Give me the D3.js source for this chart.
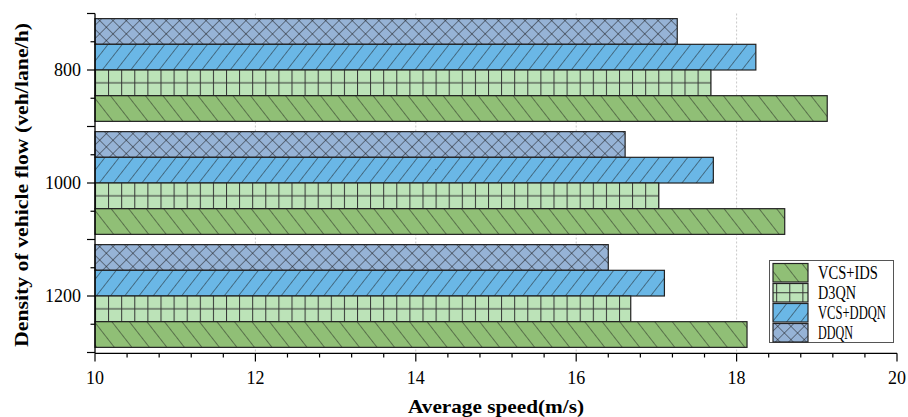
<!DOCTYPE html>
<html><head><meta charset="utf-8">
<script src="https://cdn.jsdelivr.net/npm/d3@7"></script>
<style>html,body{margin:0;padding:0;background:#fff;}svg{display:block;}</style>
</head><body>
<svg id="c" width="908" height="417"></svg>
<script>
const categories = ["800", "1000", "1200"];
const series = ["DDQN", "VCS+DDQN", "D3QN", "VCS+IDS"]; // top to bottom inside a group
const legendOrder = ["VCS+IDS", "D3QN", "VCS+DDQN", "DDQN"];
const valDDQN    = [17.26, 16.61, 16.40];
const valVCSDDQN = [18.24, 17.71, 17.10];
const valD3QN    = [17.68, 17.03, 16.68];
const valVCSIDS  = [19.13, 18.60, 18.13];
const xTicks = [10, 12, 14, 16, 18, 20];
const xTitle = "Average speed(m/s)";
const yTitle = "Density of vehicle flow (veh/lane/h)";

const values = {"DDQN": valDDQN, "VCS+DDQN": valVCSDDQN, "D3QN": valD3QN, "VCS+IDS": valVCSIDS};
const colors = {"VCS+IDS": "#90bf76", "D3QN": "#bce3b8", "VCS+DDQN": "#6ab7e6", "DDQN": "#96b3d6"};
const pid = s => "p-" + s.replace(/\+/g, "_");

const svg = d3.select("#c");
const font = "'Liberation Serif','Times New Roman',serif";
const pLeft = 95, pRight = 897, pTop = 13.5, pBottom = 352.5;

const x = d3.scaleLinear().domain([10, 20]).range([pLeft, pRight]);
const y0 = d3.scaleBand().domain(categories).range([pTop, pBottom]).padding(0);
const y1 = d3.scaleBand().domain(series).range([0, y0.bandwidth()]).paddingInner(0).paddingOuter(0.2);
const bh = y1.bandwidth();

const defs = svg.append("defs");
const hatch = "#1a1a1a", hw = 0.95;
function diag(id, rot, size, color) {
  const p = defs.append("pattern").attr("id", id).attr("patternUnits", "userSpaceOnUse")
    .attr("width", size).attr("height", size).attr("patternTransform", `rotate(${rot})`);
  p.append("rect").attr("width", size).attr("height", size).attr("fill", color);
  p.append("line").attr("x1", 0).attr("y1", 0).attr("x2", 0).attr("y2", size).attr("stroke", hatch).attr("stroke-width", hw);
}
diag(pid("VCS+IDS"), -38, 13.8, colors["VCS+IDS"]);
diag(pid("VCS+DDQN"), 38, 11.2, colors["VCS+DDQN"]);
(function(){
  const s = 9.4;
  const p = defs.append("pattern").attr("id", pid("DDQN")).attr("patternUnits", "userSpaceOnUse")
    .attr("width", s).attr("height", s).attr("patternTransform", "rotate(45)");
  p.append("rect").attr("width", s).attr("height", s).attr("fill", colors["DDQN"]);
  p.append("line").attr("x1", 0).attr("y1", 0).attr("x2", 0).attr("y2", s).attr("stroke", hatch).attr("stroke-width", hw);
  p.append("line").attr("x1", 0).attr("y1", 0).attr("x2", s).attr("y2", 0).attr("stroke", hatch).attr("stroke-width", hw);
})();
function gridPat(id, py, ph, mid) {
  const w = 13.1;
  const p = defs.append("pattern").attr("id", id).attr("patternUnits", "userSpaceOnUse")
    .attr("x", pLeft).attr("y", py).attr("width", w).attr("height", ph);
  p.append("rect").attr("width", w).attr("height", ph).attr("fill", colors["D3QN"]);
  p.append("line").attr("x1", 0.5).attr("y1", 0).attr("x2", 0.5).attr("y2", ph).attr("stroke", "#333").attr("stroke-width", 1);
  p.append("line").attr("x1", 0).attr("y1", mid).attr("x2", w).attr("y2", mid).attr("stroke", "#333").attr("stroke-width", 1);
}
gridPat(pid("D3QN"), pTop, y0.step(), y1("D3QN") + bh / 2);

// gridlines
svg.append("g").selectAll("line").data(xTicks.filter(t => t > 10 && t < 20)).join("line")
  .attr("x1", d => x(d)).attr("x2", d => x(d)).attr("y1", pTop).attr("y2", pBottom)
  .attr("stroke", "#c8c8c8").attr("stroke-width", 1).attr("stroke-dasharray", "2,2");

// bars
const g = svg.append("g");
categories.forEach((c, i) => {
  series.forEach(s => {
    g.append("rect")
      .attr("x", x(10)).attr("y", y0(c) + y1(s))
      .attr("width", x(values[s][i]) - x(10)).attr("height", bh)
      .attr("fill", `url(#${pid(s)})`).attr("stroke", "#222").attr("stroke-width", 1.2);
  });
});

// x axis
const xAxis = svg.append("g");
xAxis.append("line").attr("x1", pLeft).attr("x2", pRight).attr("y1", pBottom + 0.8).attr("y2", pBottom + 0.8).attr("stroke", "#000").attr("stroke-width", 1.3);
const minor = d3.range(0, 26).map(k => 10 + k * 0.4);
xAxis.selectAll("line.t").data(minor).join("line").attr("class", "t")
  .attr("x1", d => x(d)).attr("x2", d => x(d))
  .attr("y1", pBottom + 0.8).attr("y2", d => (Math.abs(d - Math.round(d)) < 1e-6 && Math.round(d) % 2 === 0) ? pBottom + 9 : pBottom + 5)
  .attr("stroke", "#000").attr("stroke-width", 1.2);
xAxis.selectAll("text").data(xTicks).join("text")
  .attr("x", d => x(d)).attr("y", 384).attr("text-anchor", "middle")
  .attr("font-family", font).attr("font-size", 18).text(d => d);
svg.append("text").attr("x", 496).attr("y", 413).attr("text-anchor", "middle")
  .attr("font-family", font).attr("font-size", 19).attr("font-weight", "bold")
  .attr("textLength", 176).attr("lengthAdjust", "spacingAndGlyphs").text(xTitle);

// y axis
const yAxis = svg.append("g");
yAxis.append("line").attr("x1", pLeft).attr("x2", pLeft).attr("y1", pTop).attr("y2", pBottom + 0.8).attr("stroke", "#000").attr("stroke-width", 1.3);
const yt = d3.range(0, 13).map(k => pTop + k * y0.step() / 4);
yAxis.selectAll("line.t").data(yt).join("line").attr("class", "t")
  .attr("x1", (d, k) => k % 2 === 0 ? pLeft - 8 : pLeft - 4.5).attr("x2", pLeft)
  .attr("y1", d => d).attr("y2", d => d).attr("stroke", "#000").attr("stroke-width", 1.2);
yAxis.selectAll("text").data(categories).join("text")
  .attr("x", 81).attr("y", d => y0(d) + y0.bandwidth() / 2 + 6).attr("text-anchor", "end")
  .attr("font-family", font).attr("font-size", 18).text(d => d);
svg.append("text").attr("transform", `translate(28,${(pTop + pBottom) / 2 + 2}) rotate(-90)`).attr("text-anchor", "middle")
  .attr("font-family", font).attr("font-size", 19).attr("font-weight", "bold")
  .attr("textLength", 324).attr("lengthAdjust", "spacingAndGlyphs").text(yTitle);

// legend
const lg = svg.append("g");
lg.append("rect").attr("x", 769.5).attr("y", 260.5).attr("width", 124).attr("height", 82)
  .attr("fill", "#fff").attr("stroke", "#555").attr("stroke-width", 1);
legendOrder.forEach((s, k) => {
  const sy = 263.5 + k * 20;
  let fill = `url(#${pid(s)})`;
  if (s === "D3QN") { gridPat("p-D3QN-leg", sy, 18.5, 9.25); fill = "url(#p-D3QN-leg)"; }
  lg.append("rect").attr("x", 773).attr("y", sy).attr("width", 35).attr("height", 18.5)
    .attr("fill", fill).attr("stroke", "#222").attr("stroke-width", 1.2);
  const tw = {"VCS+IDS": 60, "D3QN": 38, "VCS+DDQN": 68, "DDQN": 35}[s];
  const t = lg.append("text").attr("x", 0).attr("y", 0).attr("font-family", font).attr("font-size", 18).text(s);
  const nat = t.node().getComputedTextLength();
  t.attr("transform", `translate(818,${sy + 15.5}) scale(${tw / nat},1)`);
});
</script>
</body></html>
